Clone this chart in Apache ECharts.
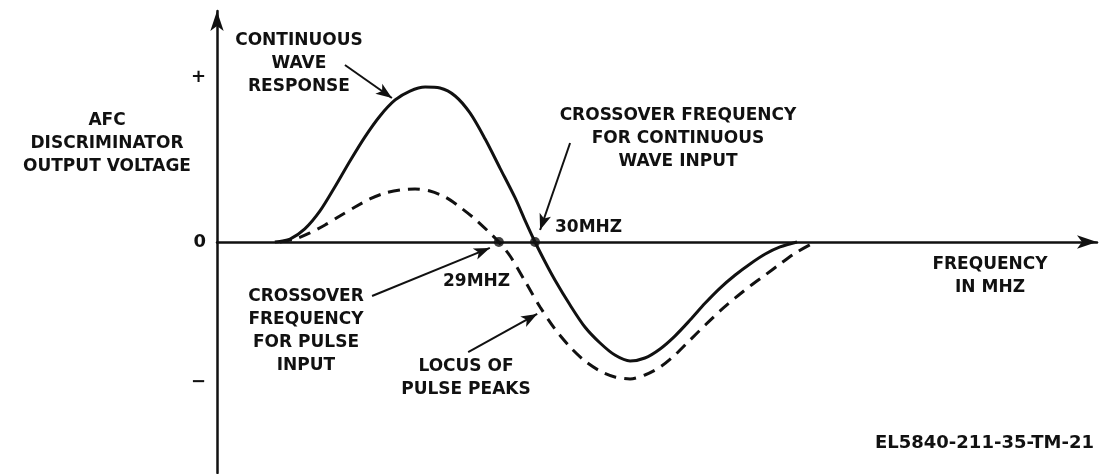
<!DOCTYPE html>
<html>
<head>
<meta charset="utf-8">
<script src="https://cdn.jsdelivr.net/npm/echarts@6/dist/echarts.min.js"></script>
<style>html,body{margin:0;padding:0;background:#fff}#c{width:1099px;height:474px}</style>
</head>
<body>
<div id="c"></div>
<script>
// Continuous wave response (frequency MHz, relative voltage; + = 1)
const cwFreq = [22.80, 23.22, 23.63, 24.05, 24.46, 24.88, 25.29, 25.71, 26.13, 26.54, 26.96, 27.37, 27.79, 28.20, 28.62, 29.03, 29.45, 29.72, 30.00, 30.28, 30.55, 30.97, 31.38, 31.80, 32.21, 32.63, 33.04, 33.46, 33.87, 34.29, 34.71, 35.12, 35.54, 35.95, 36.37, 36.78, 37.25];
const cwVolt = [0, 0.018, 0.079, 0.188, 0.333, 0.491, 0.636, 0.764, 0.861, 0.915, 0.939, 0.933, 0.885, 0.782, 0.624, 0.448, 0.267, 0.133, 0, -0.121, -0.230, -0.382, -0.515, -0.612, -0.685, -0.721, -0.703, -0.648, -0.570, -0.473, -0.370, -0.279, -0.200, -0.133, -0.073, -0.030, 0];
// Locus of pulse peaks
const pulseFreq = [22.94, 23.36, 23.77, 24.19, 24.60, 25.02, 25.43, 25.85, 26.26, 26.68, 27.09, 27.51, 27.92, 28.34, 28.75, 29.00, 29.31, 29.72, 30.14, 30.55, 30.97, 31.38, 31.80, 32.21, 32.63, 33.04, 33.46, 33.87, 34.29, 34.71, 35.12, 35.54, 35.95, 36.37, 36.78, 37.20, 37.75];
const pulseVolt = [0, 0.018, 0.055, 0.103, 0.158, 0.212, 0.261, 0.297, 0.315, 0.321, 0.309, 0.273, 0.212, 0.139, 0.055, 0, -0.085, -0.236, -0.394, -0.527, -0.636, -0.721, -0.782, -0.818, -0.830, -0.806, -0.758, -0.685, -0.594, -0.503, -0.418, -0.339, -0.267, -0.200, -0.133, -0.067, 0];
// Crossover points
const crossFreq = [29, 30];
const crossVolt = [0, 0];
// Y tick labels
const yTickValues = [-0.85, 0, 1];
const yTickLabels = ['−', '0', '+'];

const zip = (a, b) => a.map((v, i) => [v, b[i]]);
const F = 'bold 17px "DejaVu Sans"';
const txt = (x, y, text, align) => ({
  type: 'text', x: x, y: y,
  style: { text: text, font: F, fill: '#111', align: align || 'center', verticalAlign: 'middle', lineHeight: 23 }
});

const arrowStyle = { color: '#111', width: 2, type: 'solid' };
const chart = echarts.init(document.getElementById('c'), null, { renderer: 'canvas' });
chart.setOption({
  animation: false,
  backgroundColor: '#fff',
  grid: { left: 217, top: 11, width: 880, height: 462 },
  xAxis: {
    type: 'value', min: 21.2, max: 45.55,
    axisLine: { onZero: true, lineStyle: { color: '#111', width: 2.5 }, symbol: ['none', 'arrow'], symbolSize: [10, 20], symbolOffset: [0, 0] },
    axisTick: { show: false }, axisLabel: { show: false }, splitLine: { show: false }
  },
  yAxis: {
    type: 'value', min: -1.4, max: 1.4,
    axisLine: { show: true, lineStyle: { color: '#111', width: 2.5 }, symbol: ['none', 'arrow'], symbolSize: [10, 20], symbolOffset: [0, 0] },
    axisTick: { show: false }, splitLine: { show: false },
    axisLabel: {
      customValues: yTickValues, margin: 11, color: '#111', fontSize: 18, fontWeight: 'bold', fontFamily: 'DejaVu Sans',
      formatter: v => { const i = yTickValues.findIndex(t => Math.abs(t - v) < 1e-6); return i >= 0 ? yTickLabels[i] : ''; }
    }
  },
  series: [
    {
      type: 'line', data: zip(cwFreq, cwVolt), smooth: 0.3, showSymbol: false,
      lineStyle: { color: '#111', width: 3 },
      markLine: {
        silent: true, symbol: ['none', 'arrow'], symbolSize: [9, 16], label: { show: false },
        lineStyle: arrowStyle,
        data: [
          [{ coord: [24.74, 1.073] }, { coord: [26.04, 0.873] }],
          [{ coord: [30.97, 0.600] }, { coord: [30.14, 0.073] }],
          [{ coord: [25.49, -0.327] }, { coord: [28.75, -0.036] }],
          [{ coord: [28.15, -0.667] }, { coord: [30.06, -0.436] }]
        ]
      }
    },
    {
      type: 'line', data: zip(pulseFreq, pulseVolt), smooth: 0.3, showSymbol: false,
      lineStyle: { color: '#111', width: 3, type: [12, 8] }
    },
    {
      type: 'scatter', data: zip(crossFreq, crossVolt), symbolSize: 10,
      itemStyle: { color: '#111' }
    }
  ],
  graphic: [
    txt(299, 64, 'CONTINUOUS\nWAVE\nRESPONSE'),
    txt(107, 144, 'AFC\nDISCRIMINATOR\nOUTPUT VOLTAGE'),
    txt(678, 139, 'CROSSOVER FREQUENCY\nFOR CONTINUOUS\nWAVE INPUT'),
    txt(555, 228, '30MHZ', 'left'),
    txt(443, 282, '29MHZ', 'left'),
    txt(306, 331, 'CROSSOVER\nFREQUENCY\nFOR PULSE\nINPUT'),
    txt(466, 378, 'LOCUS OF\nPULSE PEAKS'),
    txt(990, 276, 'FREQUENCY\nIN MHZ'),
    {
      type: 'text', x: 875, y: 443,
      style: { text: 'EL5840-211-35-TM-21', font: 'bold 18px "DejaVu Sans"', fill: '#111', align: 'left', verticalAlign: 'middle' }
    }
  ]
});
</script>
</body>
</html>
